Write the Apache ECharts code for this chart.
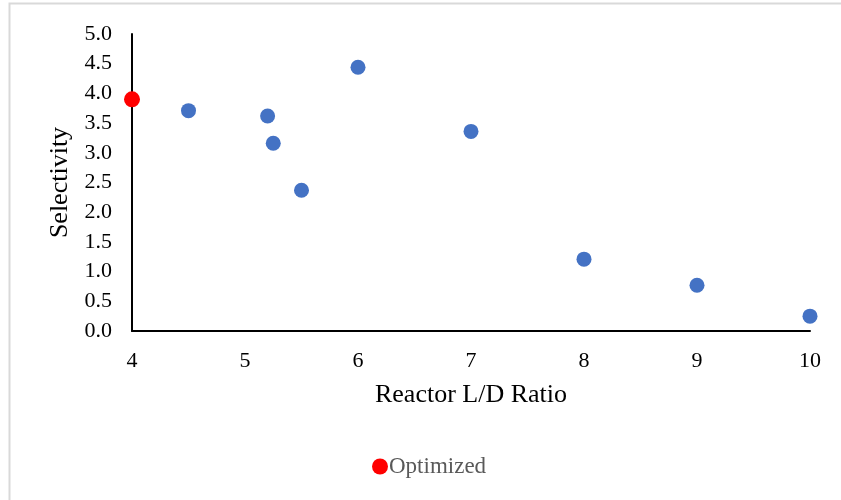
<!DOCTYPE html>
<html>
<head>
<meta charset="utf-8">
<script src="https://cdn.jsdelivr.net/npm/echarts@6/dist/echarts.min.js"></script>
<style>
  html, body { margin: 0; padding: 0; background: #fff; }
  #chart { width: 841px; height: 500px; }
</style>
</head>
<body>
<div id="chart"></div>
<script>
// data
var ldRatio = [4.5, 5.2, 5.25, 5.5, 6, 7, 8, 9, 10];
var selectivity = [3.71, 3.62, 3.16, 2.37, 4.44, 3.36, 1.21, 0.77, 0.25];
var optLd = [4];
var optSel = [3.9];

var font = "Liberation Serif";

var chart = echarts.init(document.getElementById("chart"));
chart.setOption({
  backgroundColor: "#fff",
  animation: false,
  graphic: [
    {
      type: "rect",
      shape: { x: 9.5, y: 3.5, width: 840, height: 505 },
      style: { fill: "none", stroke: "#d9d9d9", lineWidth: 2 },
      silent: true
    }
  ],
  grid: { left: 132, right: 31, top: 34, bottom: 169 },
  legend: {
    data: ["Optimized"],
    left: 367,
    top: 450,
    icon: "circle",
    itemWidth: 16,
    itemHeight: 16,
    itemGap: 2,
    textStyle: { fontFamily: font, fontSize: 23, color: "#595959", padding: [0, 0, 0, -4] }
  },
  xAxis: {
    type: "value",
    min: 4,
    max: 10,
    interval: 1,
    name: "Reactor L/D Ratio",
    nameLocation: "middle",
    nameGap: 51,
    nameTextStyle: { fontFamily: font, fontSize: 26, color: "#000" },
    axisLine: { lineStyle: { color: "#000", width: 2 } },
    axisTick: { show: false },
    splitLine: { show: false },
    axisLabel: { fontFamily: font, fontSize: 22, color: "#000", margin: 19 }
  },
  yAxis: {
    type: "value",
    min: 0,
    max: 5,
    interval: 0.5,
    name: "Selectivity",
    nameLocation: "middle",
    nameGap: 57,
    nameTextStyle: { fontFamily: font, fontSize: 26, color: "#000" },
    axisLine: { show: true, lineStyle: { color: "#000", width: 2 } },
    axisTick: { show: false },
    splitLine: { show: false },
    axisLabel: {
      fontFamily: font,
      fontSize: 22,
      color: "#000",
      margin: 20,
      formatter: function (v) { return v.toFixed(1); }
    }
  },
  series: [
    {
      name: "Selectivity",
      type: "scatter",
      symbolSize: 15,
      itemStyle: { color: "#4472C4", opacity: 1 },
      data: ldRatio.map(function (x, i) { return [x, selectivity[i]]; })
    },
    {
      name: "Optimized",
      type: "scatter",
      symbolSize: 16,
      itemStyle: { color: "#FF0000", opacity: 1 },
      data: optLd.map(function (x, i) { return [x, optSel[i]]; })
    }
  ]
});
</script>
</body>
</html>
